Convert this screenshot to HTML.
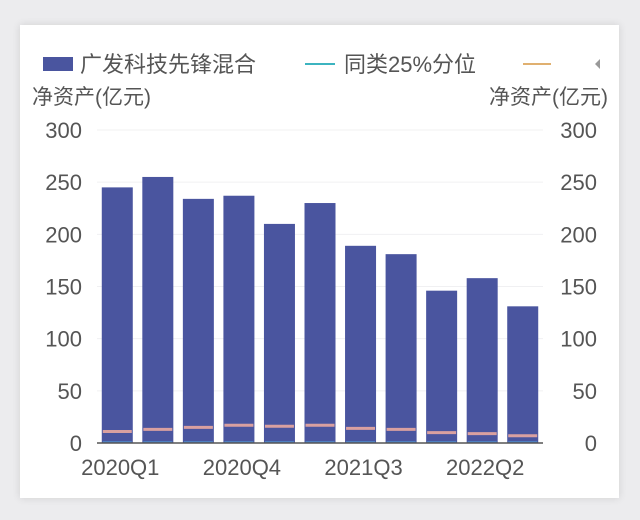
<!DOCTYPE html>
<html><head><meta charset="utf-8"><style>
body{margin:0;background:#ececee;width:640px;height:520px;overflow:hidden;font-family:"Liberation Sans","Noto Sans CJK SC",sans-serif}
#card{position:absolute;left:20px;top:25px;width:599px;height:473px;background:#fff;box-shadow:0 0 8px rgba(0,0,0,0.12)}
svg{position:absolute;left:0;top:0}
text{fill:#555;font-family:"Liberation Sans","Noto Sans CJK SC",sans-serif}
</style></head><body>
<div id="card"></div>
<svg id="c" width="640" height="520">
<g>
<rect x="43" y="57" width="30" height="14" fill="#4a559f"/>
<text x="80" y="72" font-size="22">广发科技先锋混合</text>
<line x1="305" y1="64" x2="335" y2="64" stroke="#3cb4c0" stroke-width="2"/>
<text x="344" y="72" font-size="22">同类25%分位</text>
<line x1="523" y1="64" x2="551" y2="64" stroke="#e0b070" stroke-width="2"/>
<polygon points="600,59 600,69 595,64" fill="#999"/>
</g>
<text x="32" y="104" font-size="21">净资产(亿元)</text>
<text x="608" y="104" font-size="21" text-anchor="end">净资产(亿元)</text>
<g id="axes"></g><g id="bars"></g>
</svg>
<script>
const categories=["2020Q1","2020Q2","2020Q3","2020Q4","2021Q1","2021Q2","2021Q3","2021Q4","2022Q1","2022Q2","2022Q3"];
const fundValues=[245,255,234,237,210,230,189,181,146,158,131];
const p75Values=[11,13,15,17,16,17,14,13,10,9,7];
const p25Values=[1,1,1,1,1,1,1,1,1,1,1];
const yTicks=[0,50,100,150,200,250,300];
const xLabelIdx=[0,3,6,9];
const NS="http://www.w3.org/2000/svg";
const x0=97,x1=543,yBase=443,yTop=130,yMax=300;
const band=(x1-x0)/categories.length;
const y=v=>yBase-(v/yMax)*(yBase-yTop);
const xc=i=>x0+band*(i+0.5);
const axes=document.getElementById('axes'),bars=document.getElementById('bars');
function mk(t,a,p){const e=document.createElementNS(NS,t);for(const k in a)e.setAttribute(k,a[k]);p.appendChild(e);return e;}
yTicks.forEach(v=>{
 if(v>0){const g=mk('line',{x1:x0,x2:x1,y1:y(v),y2:y(v),stroke:'#f0f0f2','stroke-width':1},axes);
 
 }
 const t=mk('text',{x:82,y:y(v)+8,'font-size':22,'text-anchor':'end'},axes);t.textContent=v;
 
 
 const t2=mk('text',{x:597,y:y(v)+8,'font-size':22,'text-anchor':'end'},axes);t2.textContent=v;
 
 
});
categories.forEach((c,i)=>{
 const w=31,cx=xc(i);
 const r=mk('rect',{x:cx-w/2,y:y(fundValues[i]),width:w,height:yBase-y(fundValues[i]),fill:'#4a559f'},bars);
 
 
 const l=mk('line',{x1:cx-w/2+1,x2:cx+w/2-1,y1:y(p75Values[i]),y2:y(p75Values[i]),stroke:'#d9a0a0','stroke-width':3},bars);
 
 
 const l2=mk('line',{x1:cx-w/2+1,x2:cx+w/2-1,y1:y(p25Values[i]),y2:y(p25Values[i]),stroke:'#4f7fc0','stroke-width':2},bars);
 
 
});
const ax=mk('line',{x1:x0,x2:x1,y1:yBase,y2:yBase,stroke:'#555','stroke-width':1.5},bars);


xLabelIdx.forEach(i=>{
 const t=mk('text',{x:xc(i)+3,y:475,'font-size':22,'text-anchor':'middle'},axes);t.textContent=categories[i];
 
 
});
</script>
</body></html>
